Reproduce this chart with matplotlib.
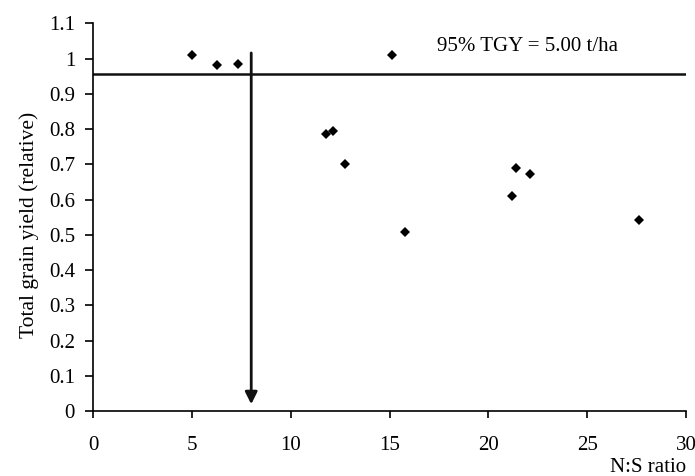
import matplotlib
matplotlib.use("Agg")
import matplotlib.pyplot as plt

plt.rcParams['font.family'] = ['Liberation Serif', 'DejaVu Serif']

# N:S ratio vs relative total grain yield
ns_ratio = [5.0, 6.25, 7.35, 15.1, 11.8, 12.15, 12.75, 15.8, 21.4, 22.1, 21.2, 27.6]
rel_yield = [1.01, 0.983, 0.985, 1.01, 0.785, 0.795, 0.70, 0.508, 0.69, 0.672, 0.611, 0.541]

threshold_y = 0.955   # 95% TGY line
critical_ns = 8.0     # arrow position
arrow_top = 1.016
arrow_tip = 0.02
label_text = '95% TGY = 5.00 t/ha'

fig = plt.figure(figsize=(6.95, 4.76), dpi=100)
ax = fig.add_axes([0.134, 0.136, 0.853, 0.815])

ax.plot(ns_ratio, rel_yield, 'D', color='black', markersize=5.5, markeredgewidth=0)
ax.axhline(threshold_y, color='#111111', lw=1.8)
ax.annotate('', xy=(critical_ns, arrow_tip), xytext=(critical_ns, arrow_top),
            arrowprops=dict(arrowstyle='-|>', color='#111111', lw=2, mutation_scale=18,
                            shrinkA=0, shrinkB=0))
ax.text(17.4, 1.035, label_text, fontsize=15, va='center', ha='left')

ax.set_xlim(0, 30)
ax.set_ylim(0, 1.1)
ax.set_xticks(range(0, 31, 5))
ax.set_yticks([i / 10 for i in range(12)])
ax.set_yticklabels(['0', '0.1', '0.2', '0.3', '0.4', '0.5', '0.6', '0.7', '0.8', '0.9', '1', '1.1'])

ax.spines['top'].set_visible(False)
ax.spines['right'].set_visible(False)
for s in ['left', 'bottom']:
    ax.spines[s].set_linewidth(1.2)
ax.tick_params(axis='x', direction='out', length=5, width=1.2, pad=13, labelsize=15)
ax.tick_params(axis='y', direction='out', length=6, width=1.2, pad=7, labelsize=15)

ax.set_ylabel('Total grain yield (relative)', fontsize=15.5)
ax.yaxis.set_label_coords(-0.092, 0.48)
fig.text(686 / 695, 0.008, 'N:S ratio', fontsize=15, ha='right', va='baseline')

fig.savefig('out.png', dpi=100)
